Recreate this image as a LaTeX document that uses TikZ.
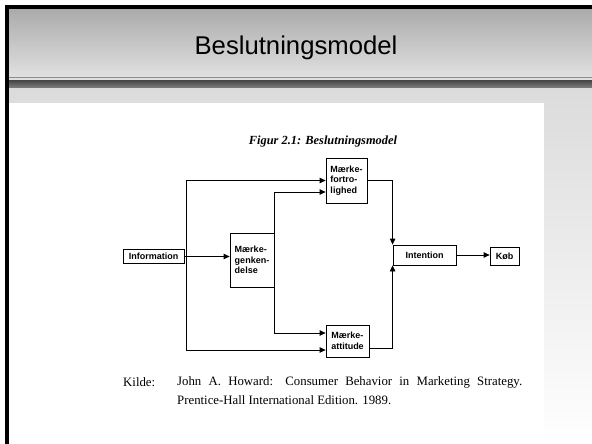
\documentclass[tikz,border=0pt]{standalone}
\usepackage{fontspec}
\setmainfont{Liberation Serif}
\newfontfamily\arialf{Liberation Sans}
\usetikzlibrary{arrows.meta,calc}
\begin{document}
\begin{tikzpicture}[x=1pt,y=-1pt,
  box/.style={draw=black,line width=0.8pt,fill=white,inner sep=0pt,align=left,
    font=\arialf\bfseries\fontsize{9}{10.5}\selectfont},
  arr/.style={line width=0.8pt,-{Triangle[length=6pt,width=5.5pt]}},
  srctext/.style={anchor=west,inner sep=0pt,font=\fontsize{12.8}{15}\selectfont}]
\useasboundingbox (0,0) rectangle (592,444);
\fill[white] (0,0) rectangle (592,444);
% content background
\shade[top color=black!14, bottom color=white] (5,88) rectangle (592,444);
% title band
\shade[top color=black!33,bottom color=black!12] (5,9) rectangle (592,77);
% separator
\fill[black!45] (5,77) rectangle (592,78.5);
\fill[black!12] (5,78.5) rectangle (592,80.5);
\shade[top color=black!72,bottom color=black!50] (5,80.5) rectangle (592,88);
% scanned page
\fill[white] (9,103) rectangle (544,444);
% borders
\fill[black] (5,5) rectangle (592,9);
\fill[black] (5,5) rectangle (9,444);
% title
\node (title) at (296,48) {\arialf\fontsize{25.7}{30}\selectfont Beslutningsmodel};
% caption
\node (cap) at (323,142) {\bfseries\itshape\fontsize{12.4}{14}\selectfont Figur 2.1: Beslutningsmodel};
% boxes
\node[box,minimum width=61pt,minimum height=14pt] (info) at (153.5,256.5) {Information};
\node[box,minimum width=44pt,minimum height=54pt] (gen) at (252,260) {Mærke-\\genken-\\delse};
\node[box,minimum width=41pt,minimum height=45pt] (fort) at (346.5,180.5) {Mærke-\\fortro-\\lighed};
\node[box,minimum width=43pt,minimum height=32pt] (att) at (347.5,341) {Mærke-\\attitude};
\node[box,minimum width=63pt,minimum height=20pt] (intent) at (424.5,255) {Intention};
\node[box,minimum width=29pt,minimum height=18pt] (kob) at (504.5,256) {Køb};
% connectors
\coordinate (jA) at ([xshift=2pt]info.east);
\draw[arr] (info.east) -- (info.east -| gen.west);
\draw[arr] (jA) |- (fort.west);
\draw[arr] (jA) |- ([yshift=-9pt]att.west);
\draw[arr] (gen.east) |- ([yshift=-11.5pt]fort.west);
\draw[arr] (gen.east) |- ([yshift=8pt]att.west);
\draw[arr] (fort.east) -| (intent.north west);
\draw[arr] ([yshift=-7pt]att.east) -| (intent.south west);
\draw[arr] (intent.east) -- (intent.east -| kob.west);
% source
\node[srctext] (kilde) at (123,382) {Kilde:};
\node[srctext] (src1) at (177,382) {\makebox[345pt][s]{John A. Howard: Consumer Behavior in Marketing Strategy.}};
\node[srctext] (src2) at (177,400) {Prentice-Hall International Edition. 1989.};
\end{tikzpicture}
\end{document}
